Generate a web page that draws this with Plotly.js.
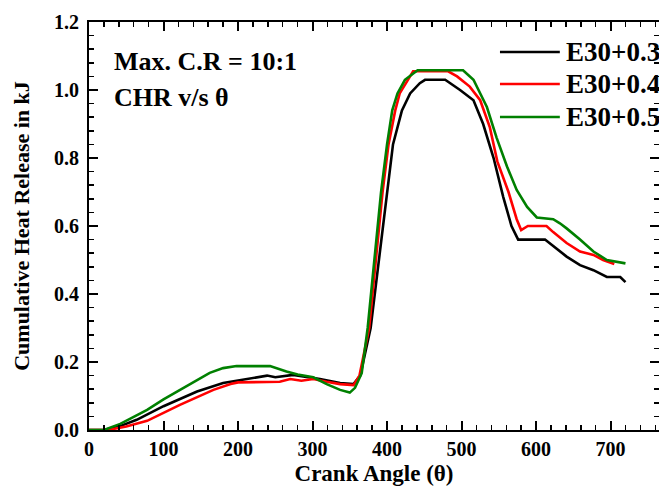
<!DOCTYPE html>
<html>
<head>
<meta charset="utf-8">
<script src="https://cdn.plot.ly/plotly-3.0.1.min.js"></script>
<style>html,body{margin:0;padding:0;background:#fff;}#chart{width:659px;height:486px;}</style>
</head>
<body>
<div id="chart"></div>
<script>
// Crank angle (deg) and cumulative heat release (kJ)
const seriesNames = ["E30+0.3", "E30+0.4", "E30+0.5"];
const seriesColors = ["#000000", "#ff0000", "#008000"];

const angleE303 = [0, 20, 40, 64, 100, 145, 180, 212, 239, 250, 274, 310, 337, 355, 364, 378, 389, 400, 408, 420, 431, 444, 451, 478, 498, 516, 529, 543, 556, 567, 576, 612, 623, 641, 659, 677, 695, 713, 720];
const chrE303   = [0, 0, 0.01, 0.03, 0.07, 0.113, 0.138, 0.15, 0.16, 0.155, 0.162, 0.15, 0.138, 0.135, 0.16, 0.30, 0.50, 0.70, 0.84, 0.94, 0.99, 1.02, 1.03, 1.03, 1.0, 0.97, 0.90, 0.80, 0.685, 0.60, 0.56, 0.56, 0.54, 0.51, 0.485, 0.47, 0.45, 0.45, 0.435];

const angleE304 = [0, 25, 50, 78, 122, 167, 190, 200, 256, 270, 285, 301, 319, 337, 355, 363, 376, 385, 394, 402, 411, 417, 428, 435, 482, 494, 511, 525, 538, 548, 563, 574, 580, 589, 614, 623, 641, 659, 677, 690, 705];
const chrE304   = [0, 0, 0.01, 0.027, 0.074, 0.118, 0.135, 0.14, 0.142, 0.15, 0.145, 0.15, 0.142, 0.135, 0.132, 0.16, 0.30, 0.50, 0.70, 0.84, 0.94, 0.99, 1.03, 1.055, 1.055, 1.04, 1.01, 0.97, 0.89, 0.79, 0.70, 0.62, 0.588, 0.60, 0.60, 0.582, 0.55, 0.525, 0.515, 0.50, 0.488];

const angleE305 = [0, 20, 42, 60, 78, 100, 118, 140, 162, 180, 198, 243, 255, 265, 280, 301, 319, 337, 350, 357, 366, 374, 383, 392, 400, 407, 414, 424, 441, 502, 516, 534, 547, 561, 574, 588, 601, 623, 632, 641, 659, 677, 695, 720];
const chrE305   = [0, 0, 0.018, 0.039, 0.059, 0.09, 0.113, 0.14, 0.168, 0.182, 0.188, 0.188, 0.178, 0.172, 0.163, 0.155, 0.135, 0.118, 0.11, 0.124, 0.167, 0.30, 0.50, 0.70, 0.84, 0.94, 0.99, 1.03, 1.058, 1.058, 1.03, 0.95, 0.86, 0.775, 0.706, 0.656, 0.625, 0.62, 0.608, 0.593, 0.56, 0.525, 0.50, 0.49];

const xTitle = "Crank Angle (θ)";
const yTitle = "Cumulative Heat Release in kJ";
const notes = ["Max. C.R = 10:1", "CHR v/s θ"];

const xs = [angleE303, angleE304, angleE305];
const ys = [chrE303, chrE304, chrE305];

const FONT = "Liberation Serif, Times New Roman, serif";

const traces = seriesNames.map((n, i) => ({
  type: "scatter",
  mode: "lines",
  name: n,
  x: xs[i],
  y: ys[i],
  line: {color: seriesColors[i], width: 2.6},
  showlegend: false
}));

const axisCommon = {
  showgrid: false,
  zeroline: false,
  showline: true,
  linecolor: "#000",
  linewidth: 2,
  mirror: "ticks",
  ticks: "inside",
  ticklen: 9,
  tickwidth: 2,
  tickcolor: "#000",
  tickfont: {family: FONT, size: 20, weight: "bold", color: "#000"}
};

// legend drawn as a key in the upper right (line sample + label per series)
const legendRowsY = [0.9265, 0.848, 0.767];
const legendShapes = seriesNames.map((n, i) => ({
  type: "line", xref: "paper", yref: "paper",
  x0: 0.721, x1: 0.826, y0: legendRowsY[i], y1: legendRowsY[i],
  line: {color: seriesColors[i], width: 2.6}
}));
const legendLabels = seriesNames.map((n, i) => ({
  text: n, xref: "paper", yref: "paper", x: 0.834, y: legendRowsY[i],
  xanchor: "left", yanchor: "middle", showarrow: false,
  font: {family: FONT, size: 27, weight: "bold", color: "#000"}
}));

const layout = {
  width: 659,
  height: 486,
  margin: {l: 89, r: 0, t: 22, b: 56},
  paper_bgcolor: "#fff",
  plot_bgcolor: "#fff",
  showlegend: false,
  xaxis: Object.assign({}, axisCommon, {
    range: [0, 765],
    tick0: 0, dtick: 100,
    minor: {dtick: 20, ticks: "inside", ticklen: 5, tickwidth: 1.5, tickcolor: "#000", showgrid: false},
    title: {text: xTitle, font: {family: FONT, size: 23, weight: "bold", color: "#000"}, standoff: 8}
  }),
  yaxis: Object.assign({}, axisCommon, {
    range: [0, 1.2],
    tick0: 0, dtick: 0.2,
    tickformat: ".1f",
    ticklabelstandoff: 4,
    minor: {dtick: 0.04, ticks: "inside", ticklen: 5, tickwidth: 1.5, tickcolor: "#000", showgrid: false},
    title: {text: yTitle, font: {family: FONT, size: 22, weight: "bold", color: "#000"}, standoff: 18}
  }),
  shapes: legendShapes,
  annotations: [
    {text: notes[0], xref: "paper", yref: "paper", x: 0.041, y: 0.902, xanchor: "left", yanchor: "middle",
     showarrow: false, font: {family: FONT, size: 26, weight: "bold", color: "#000"}},
    {text: notes[1], xref: "paper", yref: "paper", x: 0.041, y: 0.816, xanchor: "left", yanchor: "middle",
     showarrow: false, font: {family: FONT, size: 26, weight: "bold", color: "#000"}}
  ].concat(legendLabels)
};

Plotly.newPlot("chart", traces, layout, {displayModeBar: false, staticPlot: true});
</script>
</body>
</html>
